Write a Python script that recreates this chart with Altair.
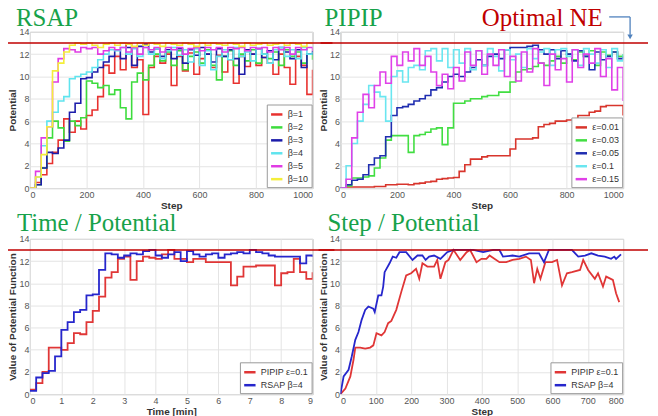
import altair as alt
import pandas as pd

# ---------------- data ----------------
steps = list(range(0, 1001, 20))

rsap_names = ["β=1", "β=2", "β=3", "β=4", "β=5", "β=10"]
rsap_colors = ["#e8312f", "#3ddc3d", "#1c1caa", "#5fe4ee", "#e03ce4", "#f4ee3a"]
rsap_b1 = [0, 0.5, 1.2, 2.2, 3.2, 4.3, 6.2, 5.0, 6.0, 5.3,
           6.5, 7.0, 8.2, 11.0, 10.3, 11.8, 10.6, 12.9, 10.8, 11.5,
           6.6, 10.8, 11.8, 11.2, 12.0, 9.2, 11.8, 10.5, 12.1, 10.2,
           11.6, 12.0, 10.8, 11.9, 10.4, 11.5, 9.4, 11.8, 10.9, 12.0,
           11.0, 11.7, 11.2, 10.2, 12.0, 10.8, 9.3, 11.8, 11.0, 8.4,
           10.6]
rsap_b2 = [0, 0.3, 1.8, 4.5, 6.0, 5.4, 4.2, 6.0, 5.6, 6.3,
           9.6, 9.4, 9.0, 9.2, 8.4, 8.8, 7.2, 6.2, 9.5, 10.3,
           9.7, 11.0, 12.0, 11.4, 12.2, 11.0, 12.3, 10.6, 11.8, 12.2,
           11.2, 12.4, 11.0, 9.7, 11.8, 12.3, 11.0, 12.0, 11.4, 12.4,
           11.2, 12.0, 11.6, 12.2, 11.0, 12.4, 11.8, 12.2, 11.2, 12.0,
           11.5]
rsap_b3 = [0, 0.3, 1.8, 3.2, 3.1, 3.6, 4.3, 6.8, 7.6, 9.8,
           9.9, 10.4, 10.8, 11.3, 11.8, 12.4, 11.6, 12.6, 11.0, 12.7,
           12.9, 12.2, 12.5, 11.8, 12.4, 11.6, 12.5, 11.2, 12.4, 11.9,
           12.6, 12.0, 11.3, 12.5, 11.8, 12.4, 11.6, 10.2, 12.4, 12.0,
           12.5, 11.7, 12.3, 11.5, 12.6, 12.2, 11.6, 12.4, 10.8, 12.0,
           12.3]
rsap_b4 = [0, 1.0, 3.8, 6.0, 6.8, 7.8, 8.2, 9.8, 10.0, 10.2,
           10.4, 10.8, 11.5, 12.0, 12.4, 12.3, 12.6, 12.0, 12.5, 11.8,
           12.6, 12.0, 12.5, 11.6, 12.3, 12.6, 11.9, 12.4, 11.3, 12.5,
           11.0, 12.3, 10.6, 11.8, 12.4, 11.5, 12.6, 11.8, 12.2, 11.4,
           12.5, 12.0, 11.2, 12.4, 12.6, 11.8, 12.4, 11.6, 12.6, 12.0,
           12.2]
rsap_b5 = [0, 1.5, 4.5, 5.5, 9.5, 11.6, 12.5, 12.4, 12.2, 12.6,
           12.5, 12.6, 12.0, 12.3, 12.6, 12.4, 12.6, 12.2, 12.6, 12.0,
           12.6, 12.4, 12.6, 12.2, 12.6, 12.4, 12.6, 12.0, 12.5, 12.6,
           12.3, 12.6, 12.4, 12.6, 12.2, 12.6, 12.5, 12.6, 12.3, 12.6,
           12.5, 12.6, 12.2, 12.6, 12.4, 12.6, 12.0, 12.6, 12.4, 12.6,
           12.3]
rsap_b10 = [0, 1.0, 3.0, 5.5, 10.5, 11.2, 12.2, 12.8, 13.0, 12.9,
            13.0, 12.8, 12.6, 12.9, 13.0, 12.8, 13.0, 12.9, 12.7, 13.0,
            12.8, 13.0, 12.9, 12.7, 13.0, 12.9, 12.8, 13.0, 12.9, 12.7,
            13.0, 12.8, 13.0, 12.9, 12.8, 13.0, 12.9, 12.7, 13.0, 12.8,
            12.9, 13.0, 12.8, 12.9, 13.0, 12.8, 13.0, 12.9, 12.7, 13.0,
            12.9]

pipip_names = ["ε=0.01", "ε=0.03", "ε=0.05", "ε=0.1", "ε=0.15"]
pipip_colors = ["#d8352c", "#42de42", "#1f2db0", "#6ae6f0", "#e040e8"]
pipip_e001 = [0, 0.1, 0.1, 0.1, 0.1, 0.1, 0.15, 0.15, 0.3, 0.3,
              0.35, 0.35, 0.3, 0.4, 0.45, 0.55, 0.6, 0.8, 0.85, 0.9,
              0.95, 1.5, 2.1, 2.6, 2.6, 2.8, 2.9, 2.9, 2.9, 2.9,
              3.5, 4.4, 4.4, 4.4, 4.5, 5.5, 5.7, 5.8, 6.0, 6.0,
              6.1, 6.1, 6.5, 6.5, 6.8, 6.9, 7.3, 7.4, 7.4, 7.4,
              6.5]
pipip_e003 = [0, 0.2, 0.9, 0.9, 1.0, 1.1, 1.8, 2.7, 4.3, 4.7,
              4.7, 4.7, 3.2, 4.7, 4.8, 5.0, 5.3, 5.4, 3.9, 5.4,
              7.6, 7.6, 7.8, 8.0, 8.0, 8.2, 8.3, 8.3, 8.6, 8.6,
              9.5, 10.4, 10.6, 10.7, 10.9, 11.2, 11.0, 11.4, 11.8, 11.2,
              12.0, 11.5, 12.2, 11.8, 12.3, 11.0, 12.2, 11.9, 12.2, 11.8,
              12.0]
pipip_e005 = [0, 0.3, 0.7, 0.8, 1.2, 2.1, 2.7, 2.9, 4.6, 6.5,
              7.2, 7.3, 7.5, 7.8, 8.0, 8.3, 8.8, 9.0, 9.5, 10.0,
              10.2, 10.0, 10.4, 10.8, 11.5, 11.0, 11.8, 12.0, 11.6, 12.4,
              12.6, 12.6, 12.6, 12.7, 12.8, 12.4, 12.0, 12.4, 11.6, 12.3,
              12.0, 11.4, 12.3, 11.8, 10.6, 12.2, 11.5, 11.8, 12.2, 11.6,
              11.8]
pipip_e01 = [0, 2.0, 4.0, 6.0, 7.5, 9.2, 8.6, 8.2, 6.0, 10.0,
             10.5, 9.5, 10.8, 11.0, 10.6, 12.3, 12.5, 11.4, 12.5, 10.8,
             12.4, 11.2, 12.5, 10.6, 12.3, 11.0, 12.5, 11.8, 10.5, 12.4,
             11.5, 12.0, 10.8, 12.5, 11.6, 12.2, 12.5, 11.0, 12.4, 12.5,
             11.8, 12.4, 11.0, 12.5, 12.0, 11.2, 12.4, 10.8, 12.5, 11.4,
             12.0]
pipip_e015 = [0, 0.8, 4.5, 6.8, 8.4, 7.2, 9.2, 10.4, 9.4, 11.8,
              11.0, 12.2, 11.4, 12.5, 11.0, 11.8, 10.4, 9.2, 10.2, 8.9,
              10.8, 9.6, 12.2, 11.0, 12.3, 10.2, 12.0, 11.0, 12.4, 10.0,
              11.8, 9.6, 12.2, 10.4, 12.5, 11.2, 9.2, 12.0, 10.6, 11.6,
              9.5, 12.4, 10.8, 12.0, 11.2, 12.5, 10.0, 11.6, 8.8, 10.8,
              7.8]

cmp_names = ["PIPIP ε=0.1", "RSAP β=4"]
cmp_colors = ["#e03636", "#2626cc"]
times = [0.0, 0.2, 0.4, 0.6, 0.8, 1.0, 1.2, 1.4, 1.6, 1.8,
         2.0, 2.2, 2.4, 2.6, 2.8, 3.0, 3.2, 3.4, 3.6, 3.8,
         4.0, 4.2, 4.4, 4.6, 4.8, 5.0, 5.2, 5.4, 5.6, 5.8,
         6.0, 6.2, 6.4, 6.6, 6.8, 7.0, 7.2, 7.4, 7.6, 7.8,
         8.0, 8.2, 8.4, 8.6, 8.8, 9.0]
time_pipip = [0.4, 1.0, 2.0, 4.2, 4.2, 4.0, 4.6, 5.5, 5.4, 6.5,
              7.5, 8.8, 10.5, 11.0, 12.2, 12.4, 10.3, 12.0, 12.4, 12.3,
              12.2, 12.6, 13.0, 12.2, 12.2, 11.9, 12.2, 12.2, 11.9, 11.9,
              11.9, 11.9, 9.8, 10.6, 11.5, 11.5, 11.6, 11.6, 11.6, 9.8,
              10.9, 11.0, 12.2, 11.0, 10.4, 11.0]
time_rsap = [0.3, 1.5, 1.9, 2.1, 3.4, 5.8, 6.5, 7.4, 7.6, 8.9,
             9.0, 11.2, 12.7, 12.6, 12.3, 12.5, 12.7, 12.6, 12.9, 13.0,
             12.5, 12.3, 12.6, 12.8, 12.0, 12.9, 12.6, 12.4, 12.6, 12.7,
             12.3, 12.6, 12.7, 12.8, 12.7, 13.0, 12.8, 12.7, 12.5, 12.4,
             12.4, 12.4, 12.4, 11.8, 12.5, 12.4]

step_pipip_x = [0, 14, 28, 37, 42, 56, 70, 84, 93, 102, 116, 125, 135, 144, 158,
                172, 186, 200, 214, 223, 232, 246, 265, 274, 283, 297, 306, 320, 339, 357,
                367, 385, 399, 413, 422, 450, 469, 487, 506, 525, 539, 548, 557, 566, 580,
                599, 613, 627, 641, 655, 678, 687, 701, 720, 729, 743, 752, 771, 780, 789]
step_pipip_v = [0, 0.5, 1.6, 3.1, 4.2, 4.2, 4.1, 4.2, 4.4, 5.5, 5.3, 5.6, 6.4, 6.6, 7.6,
                9.2, 10.7, 10.9, 11.3, 10.4, 11.8, 11.5, 11.5, 12.1, 10.4, 11.9, 12.1, 13.0, 12.1, 12.8,
                13.0, 11.9, 12.2, 12.2, 12.5, 11.9, 11.9, 12.1, 12.2, 12.4, 12.1, 10.0, 11.3, 10.4, 11.9,
                11.9, 12.1, 9.8, 10.9, 11.0, 11.2, 12.1, 11.2, 10.4, 10.9, 9.7, 10.6, 10.3, 9.1, 8.3]
step_rsap_x = [0, 9, 23, 32, 42, 51, 60, 70, 79, 93, 97, 107, 116, 121, 125,
               139, 148, 158, 167, 186, 204, 218, 232, 241, 251, 265, 283, 302, 320, 376,
               404, 432, 450, 460, 487, 506, 534, 562, 576, 590, 636, 655, 673, 692, 710,
               729, 748, 766, 775, 780, 794]
step_rsap_v = [0, 1.6, 2.2, 3.4, 4.9, 5.6, 6.7, 7.6, 7.9, 7.7, 7.4, 8.9, 8.9, 9.7, 11.0,
               11.8, 12.4, 12.3, 12.8, 12.8, 12.1, 12.5, 12.5, 12.1, 12.4, 12.5, 12.2, 12.8, 13.0, 13.0,
               12.8, 13.0, 13.0, 12.4, 12.5, 12.4, 12.7, 12.7, 11.9, 13.0, 13.0, 13.0, 12.4, 12.5, 12.7,
               12.5, 12.4, 12.2, 12.4, 12.2, 12.6]

y_ticks = [0, 2, 4, 6, 8, 10, 12, 14]
optimal_value = 13
panel_titles = ["RSAP", "PIPIP", "Time / Potential", "Step / Potential"]
note_text = "Optimal NE"

GREEN = "#17a24a"
DARKRED = "#c00000"
ARROW = "#4f81bd"
SERIF = "Liberation Serif"
SANS = "Liberation Sans"


def long_df(pairs):
    rows = []
    for name, xs, vs in pairs:
        for x, v in zip(xs, vs):
            rows.append({"x": x, "v": v, "s": name})
    return pd.DataFrame(rows)


def one_row(**kw):
    return pd.DataFrame({k: [v] for k, v in kw.items()})


def panel(df, names, colors, xdom, xvals, xtitle, ytitle, w, h, title, tdx, tdy,
          interp, rule_left, rule_right, width_line=1.6):
    yscale = alt.Scale(domain=[0, 14], nice=False)
    yaxis = alt.Axis(values=y_ticks, title=ytitle, format="d", tickCount=8)
    lines = alt.Chart(df).mark_line(interpolate=interp, strokeWidth=width_line, clip=True).encode(
        x=alt.X("x:Q", scale=alt.Scale(domain=xdom, nice=False, zero=False),
                axis=alt.Axis(values=xvals, title=xtitle, format="d")),
        y=alt.Y("v:Q", scale=yscale, axis=yaxis),
        color=alt.Color("s:N", scale=alt.Scale(domain=names, range=colors),
                        legend=alt.Legend(title=None, orient="bottom-right")),
    )
    rule = alt.Chart(one_row(v=optimal_value)).mark_rule(
        color=DARKRED, strokeWidth=1.5, clip=False).encode(
        y=alt.Y("v:Q", scale=yscale, axis=yaxis), x=alt.value(rule_left), x2=alt.value(rule_right))
    ttl = alt.Chart(one_row(t=title)).mark_text(
        font=SERIF, fontSize=25, color=GREEN, align="left", baseline="alphabetic", clip=False).encode(
        x=alt.value(tdx), y=alt.value(tdy), text="t:N")
    return alt.layer(lines, rule, ttl).properties(width=w, height=h)


df1 = long_df([(n, steps, v) for n, v in zip(rsap_names, [rsap_b1, rsap_b2, rsap_b3, rsap_b4, rsap_b5, rsap_b10])])
df2 = long_df([(n, steps, v) for n, v in zip(pipip_names, [pipip_e001, pipip_e003, pipip_e005, pipip_e01, pipip_e015])])
df3 = long_df([(cmp_names[0], times, time_pipip), (cmp_names[1], times, time_rsap)])
df4 = long_df([(cmp_names[0], step_pipip_x, step_pipip_v), (cmp_names[1], step_rsap_x, step_rsap_v)])

W1, W2, H1, H2 = 284, 284, 157, 156

p1 = panel(df1, rsap_names, rsap_colors, [0, 1000], [0, 200, 400, 600, 800, 1000], "Step", "Potential",
           W1, H1, panel_titles[0], -14, -6, "step-after", -22, W1 + 20)
p2 = panel(df2, pipip_names, pipip_colors, [0, 1000], [0, 200, 400, 600, 800, 1000], "Step", "Potential",
           W2, H1, panel_titles[1], -16, -6, "step-after", -20, W2 + 25)

# "Optimal NE" label and arrow in the PIPIP panel
note = alt.Chart(one_row(t=note_text)).mark_text(
    font=SERIF, fontSize=25, color=DARKRED, align="left", baseline="alphabetic", clip=False).encode(
    x=alt.value(142), y=alt.value(-6), text="t:N")
arrow_h = alt.Chart(one_row(a=1)).mark_rule(color=ARROW, strokeWidth=1.3, clip=False).encode(
    x=alt.value(270), x2=alt.value(291), y=alt.value(-15))
arrow_v = alt.Chart(one_row(a=1)).mark_rule(color=ARROW, strokeWidth=1.3, clip=False).encode(
    x=alt.value(291), y=alt.value(-15), y2=alt.value(3))
arrow_head = alt.Chart(one_row(a=1)).mark_point(
    shape="triangle-down", filled=True, color=ARROW, size=30, opacity=1, clip=False).encode(
    x=alt.value(291), y=alt.value(5))
p2 = alt.layer(p2, note, arrow_h, arrow_v, arrow_head)

p3 = panel(df3, cmp_names, cmp_colors, [0, 9], list(range(0, 10)), "Time [min]", "Value of Potential Function",
           W1, H2, panel_titles[2], -13, -8, "step-after", -22, W1 + 22, 1.8)
p4 = panel(df4, cmp_names, cmp_colors, [0, 800], list(range(0, 801, 100)), "Step", "Value of Potential Function",
           W2, H2, panel_titles[3], -13, -8, "linear", -22, W2 + 25, 1.8)

chart = alt.concat(p1, p2, p3, p4, columns=2, spacing={"row": 51, "column": 28}, bounds="flush").resolve_scale(
    color="independent"
).properties(
    padding={"left": -2, "top": -4, "right": 0, "bottom": 0},
    background="white",
).configure_view(
    stroke="#a0a0a0", strokeWidth=1
).configure_axis(
    labelFont=SANS, labelFontSize=9, labelColor="#555", titleFont=SANS, titleFontSize=10,
    titleFontWeight="bold", titleColor="#333", gridColor="#e4e4e4", ticks=False, domain=False,
    labelPadding=2, titlePadding=1, labelOverlap=False
).configure_axisY(titlePadding=1, labelPadding=1).configure_legend(
    offset=1, padding=3, strokeColor="#999", fillColor="white", symbolType="stroke",
    symbolStrokeWidth=2.5, symbolSize=130, labelFont=SANS, labelFontSize=9, labelColor="#333",
    rowPadding=1, cornerRadius=0
)

chart.save("out.html", embed_options={"renderer": "svg", "actions": False})
